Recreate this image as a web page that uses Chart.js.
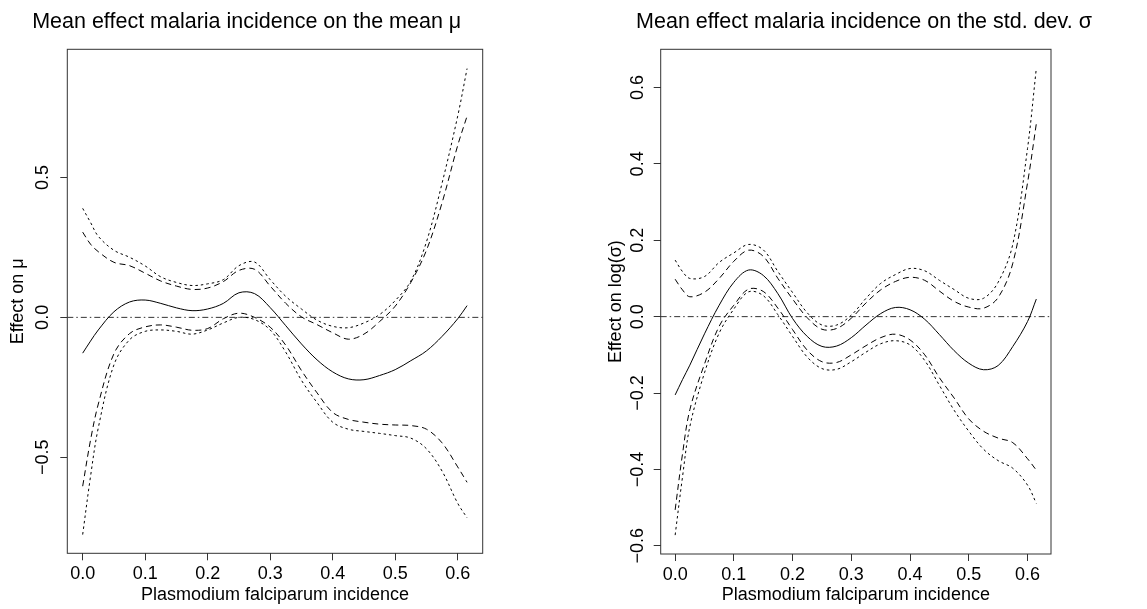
<!DOCTYPE html>
<html><head><meta charset="utf-8">
<script src="https://cdn.jsdelivr.net/npm/chart.js@4.4.1/dist/chart.umd.min.js"></script>
<style>
html,body{margin:0;padding:0;background:#fff;}
#wrap{position:relative;width:1147px;height:609px;overflow:hidden;background:#fff;}
canvas{position:absolute;top:0;}
</style></head><body>
<div id="wrap">
<canvas id="c1" width="560" height="609" style="left:0px"></canvas>
<canvas id="c2" width="557" height="609" style="left:590px"></canvas>
</div>
<script>
// ---- data ----
const xValues = [0, 0.0125, 0.025, 0.05, 0.075, 0.1, 0.125, 0.15, 0.175, 0.2, 0.225, 0.25, 0.275, 0.3,
  0.325, 0.35, 0.375, 0.4, 0.425, 0.45, 0.475, 0.5, 0.525, 0.55, 0.575, 0.6, 0.615];

// left panel: effect on the mean mu
const muMean = [-0.128, -0.085, -0.045, 0.02, 0.055, 0.062, 0.05, 0.034, 0.024, 0.03, 0.05, 0.088, 0.085, 0.035,
  -0.03, -0.095, -0.152, -0.195, -0.22, -0.223, -0.208, -0.187, -0.155, -0.12, -0.068, -0.005, 0.042];
const muUpperInner = [0.305, 0.262, 0.235, 0.197, 0.185, 0.158, 0.13, 0.112, 0.1, 0.105, 0.128, 0.168, 0.172, 0.112,
  0.05, 0.002, -0.026, -0.055, -0.078, -0.06, -0.015, 0.04, 0.125, 0.24, 0.41, 0.615, 0.72];
const muUpperOuter = [0.39, 0.34, 0.29, 0.24, 0.215, 0.184, 0.145, 0.125, 0.114, 0.12, 0.135, 0.185, 0.198, 0.135,
  0.075, 0.03, -0.01, -0.032, -0.037, -0.02, 0.01, 0.06, 0.13, 0.27, 0.48, 0.72, 0.89];
const muLowerInner = [-0.604, -0.44, -0.31, -0.13, -0.058, -0.034, -0.027, -0.035, -0.046, -0.04, -0.005, 0.015, 0.0, -0.035,
  -0.1, -0.19, -0.27, -0.34, -0.365, -0.375, -0.382, -0.385, -0.387, -0.4, -0.449, -0.535, -0.59];
const muLowerOuter = [-0.777, -0.57, -0.395, -0.17, -0.08, -0.05, -0.045, -0.05, -0.06, -0.045, -0.02, 0.0, -0.008, -0.045,
  -0.125, -0.225, -0.305, -0.375, -0.4, -0.408, -0.415, -0.423, -0.432, -0.47, -0.55, -0.665, -0.717];

// right panel: effect on log(sigma)
const sdMean = [-0.205, -0.165, -0.127, -0.045, 0.03, 0.09, 0.122, 0.108, 0.06, -0.005, -0.052, -0.078, -0.077, -0.055,
  -0.022, 0.008, 0.024, 0.018, -0.007, -0.047, -0.089, -0.122, -0.139, -0.128, -0.078, -0.013, 0.046];
const sdUpperInner = [0.098, 0.07, 0.052, 0.064, 0.1, 0.145, 0.174, 0.158, 0.1, 0.046, -0.003, -0.033, -0.031, -0.004,
  0.036, 0.07, 0.092, 0.103, 0.095, 0.067, 0.04, 0.025, 0.022, 0.05, 0.14, 0.35, 0.505];
const sdUpperOuter = [0.148, 0.118, 0.1, 0.105, 0.142, 0.167, 0.189, 0.175, 0.118, 0.063, 0.01, -0.022, -0.022, 0.004,
  0.048, 0.087, 0.11, 0.126, 0.12, 0.095, 0.071, 0.048, 0.048, 0.09, 0.19, 0.44, 0.65];
const sdLowerInner = [-0.506, -0.36, -0.244, -0.124, -0.025, 0.03, 0.072, 0.066, 0.022, -0.034, -0.088, -0.118, -0.12, -0.1,
  -0.076, -0.055, -0.046, -0.061, -0.1, -0.16, -0.213, -0.268, -0.3, -0.318, -0.33, -0.372, -0.402];
const sdLowerOuter = [-0.572, -0.42, -0.288, -0.147, -0.043, 0.02, 0.065, 0.055, 0.005, -0.052, -0.106, -0.136, -0.138, -0.118,
  -0.093, -0.071, -0.063, -0.074, -0.115, -0.18, -0.245, -0.3, -0.347, -0.377, -0.397, -0.441, -0.489];

const xTicks = [0, 0.1, 0.2, 0.3, 0.4, 0.5, 0.6];
const muTicks = [-0.5, 0, 0.5];
const sdTicks = [-0.6, -0.4, -0.2, 0, 0.2, 0.4, 0.6];

const titleLeft = 'Mean effect malaria incidence on the mean \u03bc';
const titleRight = 'Mean effect malaria incidence on the std. dev. \u03c3';
const xTitle = 'Plasmodium falciparum incidence';
const yTitleLeft = 'Effect on \u03bc';
const yTitleRight = 'Effect on log(\u03c3)';

// ---- drawing ----
const FONT = '"Liberation Sans", Arial, Helvetica, sans-serif';
const INK = '#000';
const FRAME = '#333';

const framePlugin = {
  id: 'frame',
  beforeDatasetsDraw(chart) {
    const {ctx, chartArea: a} = chart;
    const y0 = chart.scales.y.getPixelForValue(0);
    ctx.save();
    ctx.strokeStyle = '#333';
    ctx.lineWidth = 1;
    ctx.setLineDash([6, 3, 1.5, 3]);
    ctx.beginPath();
    ctx.moveTo(a.left, y0);
    ctx.lineTo(a.right, y0);
    ctx.stroke();
    ctx.restore();
  },
  afterDraw(chart) {
    const {ctx, chartArea: a} = chart;
    ctx.save();
    ctx.strokeStyle = FRAME;
    ctx.lineWidth = 1;
    ctx.strokeRect(a.left, a.top, a.right - a.left, a.bottom - a.top);
    const o = chart.options.plugins.frame;
    ctx.fillStyle = INK;
    ctx.font = '21.5px ' + FONT;
    ctx.textAlign = 'center';
    ctx.textBaseline = 'alphabetic';
    ctx.fillText(o.title, o.titleX, 28.3);
    ctx.restore();
  }
};

function pts(arr) { return xValues.map((x, i) => ({x: x, y: arr[i]})); }
function fmt(v) { return (v < -1e-9 ? '\u2212' : '') + Math.abs(v).toFixed(1); }

function ds(arr, dash) {
  return {
    data: pts(arr), borderColor: INK, borderWidth: 1, borderDash: dash,
    pointRadius: 0, fill: false, tension: 0.35
  };
}

function makeChart(id, cfg) {
  return new Chart(document.getElementById(id), {
    type: 'line',
    data: {
      datasets: [
        ds(cfg.upperOuter, [2.5, 3]),
        ds(cfg.upperInner, [6, 4]),
        ds(cfg.mean, []),
        ds(cfg.lowerInner, [6, 4]),
        ds(cfg.lowerOuter, [2.5, 3])
      ]
    },
    options: {
      responsive: false, animation: false, devicePixelRatio: 1,
      layout: {padding: {left: 0, right: cfg.padRight, top: cfg.top, bottom: 0}},
      plugins: {
        legend: {display: false}, tooltip: {enabled: false}, title: {display: false},
        frame: {title: cfg.title, titleX: cfg.titleX}
      },
      scales: {
        x: {
          type: 'linear', min: -0.0246, max: 0.64,
          afterBuildTicks: s => { s.ticks = xTicks.map(v => ({value: v})); },
          afterFit: s => { s.height = 609 - cfg.bottom; },
          ticks: {callback: v => fmt(v), color: INK, font: {family: FONT, size: 18},
            maxRotation: 0, minRotation: 0, autoSkip: false, padding: 3},
          grid: {display: true, drawOnChartArea: false, drawTicks: true, tickLength: 7, color: FRAME},
          border: {display: false},
          title: {display: true, text: xTitle, color: INK, font: {family: FONT, size: 18},
            padding: {top: 0, bottom: 3}}
        },
        y: {
          type: 'linear', min: cfg.ymin, max: cfg.ymax,
          afterBuildTicks: s => { s.ticks = cfg.yTicks.map(v => ({value: v})); },
          afterFit: s => { s.width = cfg.left; },
          ticks: {callback: v => fmt(v), color: INK, font: {family: FONT, size: 18},
            minRotation: 90, maxRotation: 90, crossAlign: 'center', padding: cfg.tickPad, autoSkip: false},
          grid: {display: true, drawOnChartArea: false, drawTicks: true, tickLength: 7, color: FRAME},
          border: {display: false},
          title: {display: true, text: cfg.yTitle, color: INK, font: {family: FONT, size: 18},
            padding: {top: cfg.yTitlePad, bottom: 0}}
        }
      }
    },
    plugins: [framePlugin]
  });
}

makeChart('c1', {
  title: titleLeft, titleX: 246.7, yTitle: yTitleLeft,
  mean: muMean, upperInner: muUpperInner, upperOuter: muUpperOuter, lowerInner: muLowerInner, lowerOuter: muLowerOuter,
  ymin: -0.844, ymax: 0.959, yTicks: muTicks,
  left: 67.3, padRight: 560 - 482.7, top: 49.3, bottom: 553.3, tickPad: 0, yTitlePad: 7.5
});
makeChart('c2', {
  title: titleRight, titleX: 864 - 590, yTitle: yTitleRight,
  mean: sdMean, upperInner: sdUpperInner, upperOuter: sdUpperOuter, lowerInner: sdLowerInner, lowerOuter: sdLowerOuter,
  ymin: -0.6215, ymax: 0.700, yTicks: sdTicks,
  left: 70.7, padRight: 557 - 461, top: 49.3, bottom: 554, tickPad: -2, yTitlePad: 15
});
</script>
</body></html>
